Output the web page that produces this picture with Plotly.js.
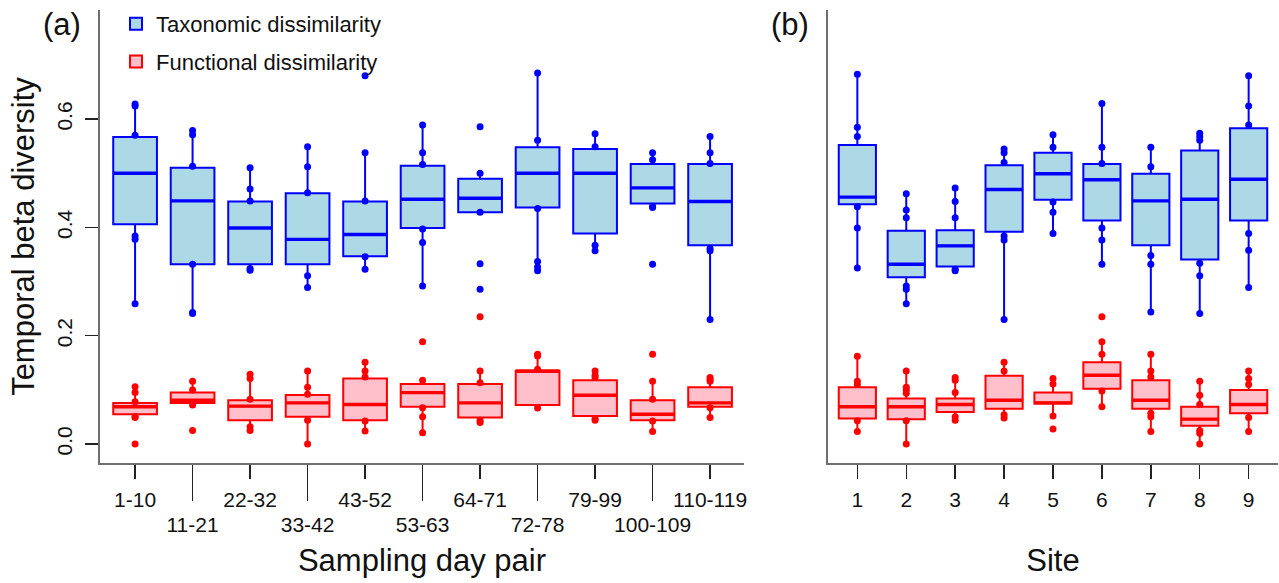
<!DOCTYPE html>
<html><head><meta charset="utf-8">
<script src="https://cdn.plot.ly/plotly-3.0.1.min.js"></script>
<style>html,body{margin:0;padding:0;background:#fff}#chart{width:1279px;height:583px}</style>
</head><body><div id="chart"></div>
<script>
// ---------- data ----------
const dayPairs = ['1-10','11-21','22-32','33-42','43-52','53-63','64-71','72-78','79-99','100-109','110-119'];
const sites = ['1','2','3','4','5','6','7','8','9'];
const yTicks = [0.0, 0.2, 0.4, 0.6];

// Panel (a) taxonomic
const aTaxQ1  = [0.406, 0.332, 0.332, 0.332, 0.347, 0.399, 0.428, 0.437, 0.389, 0.444, 0.367];
const aTaxMed = [0.500, 0.449, 0.399, 0.378, 0.387, 0.452, 0.454, 0.500, 0.500, 0.473, 0.448];
const aTaxQ3  = [0.567, 0.510, 0.448, 0.463, 0.448, 0.514, 0.490, 0.548, 0.545, 0.517, 0.517];
const aTaxLo  = [0.259, 0.241, 0.321, 0.289, 0.323, 0.292, 0.428, 0.320, 0.357, 0.437, 0.230];
const aTaxHi  = [0.628, 0.579, 0.510, 0.549, 0.538, 0.589, 0.500, 0.685, 0.573, 0.538, 0.568];
const aTaxPts = [
  [0.628, 0.624, 0.570, 0.384, 0.378, 0.259],
  [0.579, 0.571, 0.513, 0.332, 0.243, 0.241],
  [0.510, 0.471, 0.449, 0.324, 0.321],
  [0.549, 0.512, 0.464, 0.311, 0.289],
  [0.680, 0.538, 0.449, 0.346, 0.323],
  [0.589, 0.538, 0.516, 0.397, 0.372, 0.292],
  [0.586, 0.500, 0.428, 0.333, 0.286],
  [0.685, 0.561, 0.435, 0.337, 0.327, 0.320],
  [0.573, 0.549, 0.367, 0.357],
  [0.538, 0.525, 0.439, 0.437, 0.332],
  [0.568, 0.538, 0.518, 0.361, 0.357, 0.230]
];
// Panel (a) functional
const aFunQ1  = [0.055, 0.076, 0.044, 0.0505, 0.044, 0.069, 0.049, 0.072, 0.052, 0.044, 0.069];
const aFunMed = [0.069, 0.081, 0.070, 0.076, 0.073, 0.095, 0.076, 0.135, 0.090, 0.055, 0.076];
const aFunQ3  = [0.076, 0.095, 0.081, 0.0905, 0.121, 0.111, 0.111, 0.135, 0.118, 0.081, 0.105];
const aFunLo  = [0.049, 0.072, 0.025, 0.000, 0.024, 0.021, 0.040, 0.0665, 0.044, 0.023, 0.049];
const aFunHi  = [0.106, 0.116, 0.129, 0.135, 0.151, 0.118, 0.135, 0.166, 0.135, 0.116, 0.123];
const aFunPts = [
  [0.106, 0.095, 0.078, 0.0505, 0.049, 0.0],
  [0.116, 0.100, 0.072, 0.025],
  [0.129, 0.121, 0.0825, 0.032, 0.025],
  [0.135, 0.105, 0.092, 0.044, 0.0],
  [0.151, 0.135, 0.124, 0.0425, 0.024],
  [0.189, 0.118, 0.067, 0.0505, 0.021],
  [0.235, 0.135, 0.113, 0.044, 0.040],
  [0.166, 0.1625, 0.138, 0.0665],
  [0.135, 0.127, 0.123, 0.047, 0.044],
  [0.166, 0.116, 0.0825, 0.0425, 0.023],
  [0.123, 0.119, 0.116, 0.067, 0.049]
];
// Panel (b) taxonomic
const bTaxQ1  = [0.443, 0.308, 0.328, 0.392, 0.451, 0.413, 0.367, 0.341, 0.413];
const bTaxMed = [0.456, 0.332, 0.366, 0.470, 0.499, 0.488, 0.449, 0.452, 0.489];
const bTaxQ3  = [0.552, 0.394, 0.395, 0.515, 0.538, 0.517, 0.499, 0.542, 0.583];
const bTaxLo  = [0.325, 0.259, 0.320, 0.230, 0.389, 0.332, 0.244, 0.241, 0.289];
const bTaxHi  = [0.683, 0.462, 0.473, 0.545, 0.571, 0.629, 0.548, 0.574, 0.680];
const bTaxPts = [
  [0.683, 0.585, 0.568, 0.438, 0.399, 0.325],
  [0.462, 0.432, 0.418, 0.292, 0.286, 0.259],
  [0.473, 0.448, 0.418, 0.323, 0.320],
  [0.545, 0.538, 0.520, 0.384, 0.377, 0.230],
  [0.571, 0.548, 0.447, 0.428, 0.389],
  [0.629, 0.548, 0.518, 0.399, 0.377, 0.332],
  [0.548, 0.512, 0.348, 0.332, 0.244],
  [0.574, 0.568, 0.561, 0.334, 0.311, 0.241],
  [0.680, 0.624, 0.589, 0.389, 0.358, 0.289]
];
// Panel (b) functional
const bFunQ1  = [0.047, 0.046, 0.059, 0.065, 0.075, 0.102, 0.065, 0.034, 0.057];
const bFunMed = [0.069, 0.069, 0.073, 0.081, 0.076, 0.127, 0.081, 0.046, 0.073];
const bFunQ3  = [0.105, 0.084, 0.084, 0.126, 0.095, 0.151, 0.118, 0.069, 0.100];
const bFunLo  = [0.023, 0.000, 0.044, 0.048, 0.052, 0.069, 0.023, 0.000, 0.023];
const bFunHi  = [0.162, 0.135, 0.123, 0.151, 0.121, 0.189, 0.166, 0.116, 0.135];
const bFunPts = [
  [0.162, 0.116, 0.110, 0.043, 0.023],
  [0.135, 0.105, 0.100, 0.094, 0.043, 0.0],
  [0.123, 0.118, 0.095, 0.0505, 0.044],
  [0.151, 0.135, 0.054, 0.048],
  [0.121, 0.111, 0.052, 0.028],
  [0.235, 0.189, 0.166, 0.098, 0.069],
  [0.166, 0.135, 0.124, 0.057, 0.0505, 0.023],
  [0.116, 0.090, 0.073, 0.025, 0.020, 0.0],
  [0.135, 0.121, 0.110, 0.049, 0.023]
];

// ---------- styling ----------
const FONT = 'Liberation Sans, Arial, Helvetica, sans-serif';
const TAX_LINE = '#0000FF', TAX_FILL = '#ADD8E6';
const FUN_LINE = '#FF0000', FUN_FILL = '#FFC0CB';
const BOXW = 0.76;

const idxA = dayPairs.map((_, i) => i + 1);
const idxB = sites.map((_, i) => i + 1);

function boxTrace(xs, q1, med, q3, lo, hi, line, fill, xa, name, legend, group) {
  return {
    type: 'box', x: xs, q1: q1, median: med, q3: q3, lowerfence: lo, upperfence: hi,
    xaxis: xa, yaxis: xa === 'x' ? 'y' : 'y2',
    width: BOXW, whiskerwidth: 0, boxpoints: false,
    line: {color: line, width: 2}, fillcolor: fill,
    name: name, showlegend: legend, legendgroup: group, hoverinfo: 'skip'
  };
}
function dotTrace(xs, pts, color, xa) {
  const x = [], y = [];
  pts.forEach((arr, i) => arr.forEach(v => { x.push(xs[i]); y.push(v); }));
  return {type: 'scatter', mode: 'markers', x: x, y: y, xaxis: xa, yaxis: xa === 'x' ? 'y' : 'y2',
    marker: {color: color, size: 7}, showlegend: false, hoverinfo: 'skip'};
}
// thicker median bar (line-ew symbol length is 1.4 x size)
function medTrace(xs, med, color, xa, px) {
  return {type: 'scatter', mode: 'markers', x: xs, y: med, xaxis: xa, yaxis: xa === 'x' ? 'y' : 'y2',
    marker: {symbol: 'line-ew', size: px / 1.4, color: color, line: {color: color, width: 3.4}},
    showlegend: false, hoverinfo: 'skip'};
}

const evenIdx = idxA.filter(i => i % 2 === 0);
const oddIdx = idxA.filter(i => i % 2 === 1);

const data = [
  boxTrace(idxA, aTaxQ1, aTaxMed, aTaxQ3, aTaxLo, aTaxHi, TAX_LINE, TAX_FILL, 'x', 'Taxonomic dissimilarity', true, 'tax'),
  boxTrace(idxA, aFunQ1, aFunMed, aFunQ3, aFunLo, aFunHi, FUN_LINE, FUN_FILL, 'x', 'Functional dissimilarity', true, 'fun'),
  boxTrace(idxB, bTaxQ1, bTaxMed, bTaxQ3, bTaxLo, bTaxHi, TAX_LINE, TAX_FILL, 'x2', 'Taxonomic dissimilarity', false, 'tax'),
  boxTrace(idxB, bFunQ1, bFunMed, bFunQ3, bFunLo, bFunHi, FUN_LINE, FUN_FILL, 'x2', 'Functional dissimilarity', false, 'fun'),
  dotTrace(idxA, aTaxPts, TAX_LINE, 'x'),
  dotTrace(idxA, aFunPts, FUN_LINE, 'x'),
  dotTrace(idxB, bTaxPts, TAX_LINE, 'x2'),
  dotTrace(idxB, bFunPts, FUN_LINE, 'x2'),
  medTrace(idxA, aTaxMed, TAX_LINE, 'x', 44),
  medTrace(idxA, aFunMed, FUN_LINE, 'x', 44),
  medTrace(idxB, bTaxMed, TAX_LINE, 'x2', 38),
  medTrace(idxB, bFunMed, FUN_LINE, 'x2', 38),
  // invisible carrier so the staggered (even) tick axis of panel (a) is drawn
  {type: 'scatter', mode: 'markers', x: evenIdx, y: evenIdx.map(i => aTaxMed[i - 1]),
   xaxis: 'x3', yaxis: 'y', marker: {opacity: 0, size: 1}, showlegend: false, hoverinfo: 'skip'}
];

const W = 1279, H = 583;
const yDom = [1 - 463 / H, 1 - 10 / H];
const yRange = [-0.035, 0.8015];
const axBase = {
  showline: true, linecolor: '#6e6e6e', linewidth: 2, zeroline: false, showgrid: false,
  ticks: 'outside', tickcolor: '#222', tickwidth: 1.5,
  tickfont: {family: FONT, size: 21, color: '#111'}
};
const titleFont = {family: FONT, size: 31, color: '#111'};

const layout = {
  width: W, height: H, margin: {l: 0, r: 0, t: 0, b: 0},
  paper_bgcolor: '#fff', plot_bgcolor: '#fff',
  font: {family: FONT, color: '#111'},
  boxmode: 'overlay', showlegend: true,
  legend: {x: 116 / W, y: 1 - 3 / H, xanchor: 'left', yanchor: 'top', bgcolor: 'rgba(0,0,0,0)',
    font: {family: FONT, size: 22, color: '#111'}, traceorder: 'grouped', tracegroupgap: 6},
  xaxis: Object.assign({}, axBase, {
    domain: [100 / W, 744 / W], range: [0.39, 11.59], anchor: 'y',
    tickmode: 'array', tickvals: oddIdx, ticktext: oddIdx.map(i => dayPairs[i - 1]), ticklen: 14,
    ticklabelstandoff: 3,
    title: {text: 'Sampling day pair', font: titleFont, standoff: 39}
  }),
  xaxis3: Object.assign({}, axBase, {
    overlaying: 'x', anchor: 'y', range: [0.39, 11.59], side: 'bottom',
    tickmode: 'array', tickvals: evenIdx, ticktext: evenIdx.map(i => dayPairs[i - 1]), ticklen: 36,
    ticklabelstandoff: 6
  }),
  yaxis: Object.assign({}, axBase, {
    domain: yDom, range: yRange, anchor: 'x',
    tickmode: 'array', tickvals: yTicks, ticktext: yTicks.map(v => v.toFixed(1)), ticklen: 13, tickangle: -90,
    ticklabelstandoff: 5,
    title: {text: 'Temporal beta diversity', font: titleFont, standoff: 9}
  }),
  xaxis2: Object.assign({}, axBase, {
    domain: [828 / W, 1278 / W], range: [0.4, 9.6], anchor: 'y2',
    tickmode: 'array', tickvals: idxB, ticktext: sites, ticklen: 14,
    ticklabelstandoff: 3,
    title: {text: 'Site', font: titleFont, standoff: 39}
  }),
  yaxis2: Object.assign({}, axBase, {
    domain: yDom, range: yRange, anchor: 'x2', ticks: '', showticklabels: false
  }),
  annotations: [
    {text: '(a)', xref: 'paper', yref: 'paper', x: 62 / W, y: 1 - 25 / H, showarrow: false,
     xanchor: 'center', yanchor: 'middle', font: titleFont},
    {text: '(b)', xref: 'paper', yref: 'paper', x: 790 / W, y: 1 - 25 / H, showarrow: false,
     xanchor: 'center', yanchor: 'middle', font: titleFont}
  ]
};

Plotly.newPlot('chart', data, layout, {staticPlot: true, displayModeBar: false});
</script>
</body></html>
